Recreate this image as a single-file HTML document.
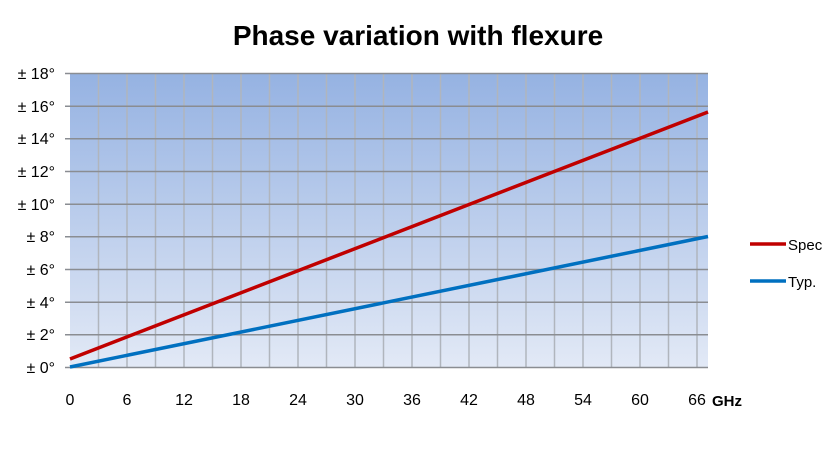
<!DOCTYPE html>
<html><head><style>
body{margin:0;background:#fff;width:828px;height:448px;overflow:hidden}
</style></head><body>
<svg width="828" height="448" xmlns="http://www.w3.org/2000/svg" font-family="Liberation Sans, sans-serif">
<defs><linearGradient id="g" x1="0" y1="0" x2="0" y2="1">
<stop offset="0" stop-color="#95b2e2"/><stop offset="1" stop-color="#e2e9f6"/></linearGradient></defs>
<text x="418" y="45" text-anchor="middle" font-size="28" font-weight="bold" fill="#000">Phase variation with flexure</text>
<rect x="70" y="73" width="638" height="294" fill="url(#g)"/>
<g stroke="#b0b5bd" stroke-width="1.5">
<line x1="98.5" y1="73" x2="98.5" y2="367"/><line x1="127" y1="73" x2="127" y2="367"/><line x1="155.5" y1="73" x2="155.5" y2="367"/><line x1="184" y1="73" x2="184" y2="367"/><line x1="212.5" y1="73" x2="212.5" y2="367"/><line x1="241" y1="73" x2="241" y2="367"/><line x1="269.5" y1="73" x2="269.5" y2="367"/><line x1="298" y1="73" x2="298" y2="367"/><line x1="326.5" y1="73" x2="326.5" y2="367"/><line x1="355" y1="73" x2="355" y2="367"/><line x1="383.5" y1="73" x2="383.5" y2="367"/><line x1="412" y1="73" x2="412" y2="367"/><line x1="440.5" y1="73" x2="440.5" y2="367"/><line x1="469" y1="73" x2="469" y2="367"/><line x1="497.5" y1="73" x2="497.5" y2="367"/><line x1="526" y1="73" x2="526" y2="367"/><line x1="554.5" y1="73" x2="554.5" y2="367"/><line x1="583" y1="73" x2="583" y2="367"/><line x1="611.5" y1="73" x2="611.5" y2="367"/><line x1="640" y1="73" x2="640" y2="367"/><line x1="668.5" y1="73" x2="668.5" y2="367"/><line x1="697" y1="73" x2="697" y2="367"/>
</g>
<g stroke="#8a8d92" stroke-width="1.5">
<line x1="65" y1="73.5" x2="708" y2="73.5"/><line x1="65" y1="106.2" x2="708" y2="106.2"/><line x1="65" y1="138.8" x2="708" y2="138.8"/><line x1="65" y1="171.5" x2="708" y2="171.5"/><line x1="65" y1="204.2" x2="708" y2="204.2"/><line x1="65" y1="236.8" x2="708" y2="236.8"/><line x1="65" y1="269.5" x2="708" y2="269.5"/><line x1="65" y1="302.2" x2="708" y2="302.2"/><line x1="65" y1="334.8" x2="708" y2="334.8"/><line x1="65" y1="367.5" x2="708" y2="367.5"/>
</g>
<line x1="70" y1="359" x2="708" y2="112" stroke="#c00000" stroke-width="3.5"/>
<line x1="70" y1="367" x2="708" y2="236.5" stroke="#0070c0" stroke-width="3.5"/>
<g font-size="16" fill="#000" text-anchor="end">
<text x="55" y="79">± 18°</text><text x="55" y="112">± 16°</text><text x="55" y="144">± 14°</text><text x="55" y="177">± 12°</text><text x="55" y="210">± 10°</text><text x="55" y="242">± 8°</text><text x="55" y="275">± 6°</text><text x="55" y="308">± 4°</text><text x="55" y="340">± 2°</text><text x="55" y="373">± 0°</text>
</g>
<g font-size="16" fill="#000" text-anchor="middle">
<text x="70" y="405">0</text><text x="127" y="405">6</text><text x="184" y="405">12</text><text x="241" y="405">18</text><text x="298" y="405">24</text><text x="355" y="405">30</text><text x="412" y="405">36</text><text x="469" y="405">42</text><text x="526" y="405">48</text><text x="583" y="405">54</text><text x="640" y="405">60</text><text x="697" y="405">66</text>
</g>
<text x="712" y="406" font-size="15" font-weight="bold">GHz</text>
<line x1="750" y1="244" x2="786" y2="244" stroke="#c00000" stroke-width="3.5"/>
<text x="788" y="250" font-size="15">Spec</text>
<line x1="750" y1="281" x2="786" y2="281" stroke="#0070c0" stroke-width="3.5"/>
<text x="788" y="287" font-size="15">Typ.</text>
</svg>
</body></html>
